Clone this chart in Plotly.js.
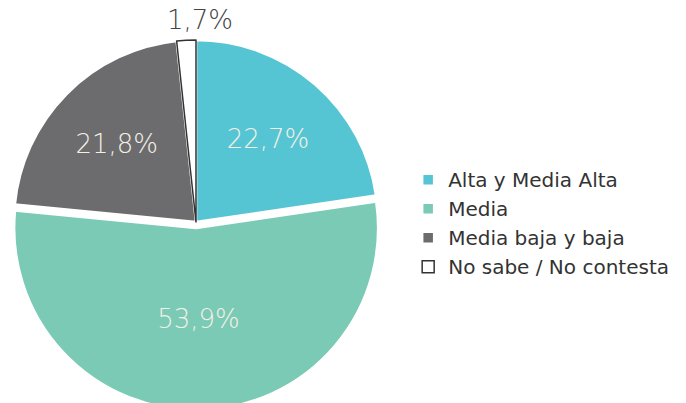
<!DOCTYPE html>
<html><head><meta charset="utf-8">
<script src="https://cdn.plot.ly/plotly-3.0.1.min.js"></script>
<style>html,body{margin:0;padding:0;overflow:hidden;background:#fff}</style>
</head><body>
<div id="chart" style="width:686px;height:410px"></div>
<script>
const categories = ['Alta y Media Alta', 'Media', 'Media baja y baja', 'No sabe / No contesta'];
const values = [22.7, 53.9, 21.8, 1.7];
const colors = ['#56C5D3', '#7BCAB5', '#6C6C6E', '#FFFFFF'];
const sliceLabels = ['%{value:.1f}%', '%{value:.1f}%', '%{value:.1f}%', ''];

const trace = {
  type: 'pie',
  labels: categories,
  values: values,
  sort: false,
  direction: 'clockwise',
  rotation: 0,
  pull: [0, 0.033, 0, 0],
  marker: {colors: colors, line: {color: ['#FFFFFF', '#FFFFFF', '#FFFFFF', '#333333'], width: [2.5, 2.5, 2.5, 1.5]}},
  texttemplate: sliceLabels,
  textposition: 'inside',
  insidetextfont: {family: 'DejaVu Sans, sans-serif', size: 26, color: '#F3F0E6', weight: 300},
  insidetextorientation: 'horizontal',
  domain: {x: [0, 392/686], y: [0, 1]},
  hoverinfo: 'label+percent'
};

const smallLabel = values[3].toFixed(1).replace('.', ',') + '%';

const layout = {
  width: 686, height: 410,
  margin: {l: 0, r: 0, t: 34, b: 0},
  separators: ',.',
  showlegend: true,
  legend: {x: 0.595, xanchor: 'left', y: 0.497, yanchor: 'middle',
    font: {family: 'DejaVu Sans, sans-serif', size: 20, color: '#333333'},
    tracegroupgap: 0, itemwidth: 30},
  annotations: [{
    text: smallLabel, xref: 'paper', yref: 'paper', x: 0.2915, y: 1.037,
    xanchor: 'center', yanchor: 'middle', showarrow: false,
    font: {family: 'DejaVu Sans, sans-serif', size: 26, color: '#444444', weight: 300}
  }],
  paper_bgcolor: '#FFFFFF'
};
Plotly.newPlot('chart', [trace], layout, {displayModeBar: false, staticPlot: true});
</script>
</body></html>
